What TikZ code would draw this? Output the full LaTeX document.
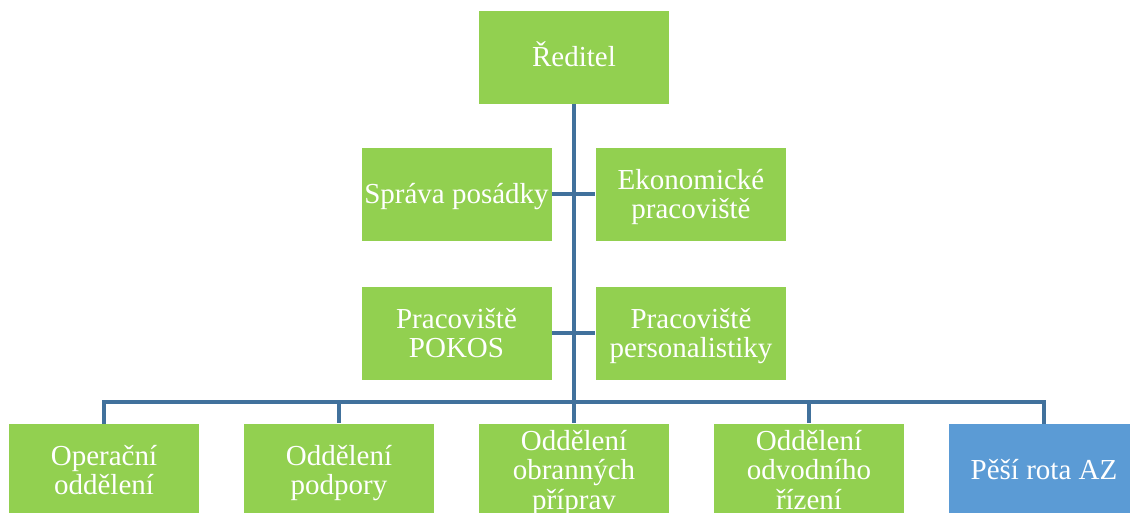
\documentclass[tikz,border=0pt]{standalone}
\usepackage{fontspec}
\setmainfont{Liberation Serif}
\definecolor{boxgreen}{HTML}{92D050}
\definecolor{boxblue}{HTML}{5B9BD5}
\definecolor{linkblue}{HTML}{41719C}
\newcommand{\lnst}{\rule[-0.216em]{0pt}{1.107em}}
\newcommand{\boxfont}{\fontsize{29}{29.5}\selectfont\lineskiplimit=-100pt\relax\lineskip=0pt\relax}
\begin{document}
\begin{tikzpicture}[x=1pt,y=-1pt,
  box/.style={draw=white, line width=0.8pt, fill=boxgreen, minimum width=191pt,
    minimum height=94pt, inner sep=0pt, text=white, align=center,
    font=\boxfont},
  link/.style={draw=linkblue, line width=3.5pt}]
\clip (0,0) rectangle (1130,513);
\fill[white] (0,0) rectangle (1130,513);
% nodes
\node[box] (dir) at (574,57) {\lnst Ředitel};
\node[box] (sprava) at (456.5,194) {\lnst Správa posádky};
\node[box] (ekon) at (691,194) {\lnst Ekonomické\\\lnst pracoviště};
\node[box] (pokos) at (456.5,333) {\lnst Pracoviště\\\lnst POKOS};
\node[box] (perso) at (691,333) {\lnst Pracoviště\\\lnst personalistiky};
\node[box] (b1) at (104,470) {\lnst Operační\\\lnst oddělení};
\node[box] (b2) at (339,470) {\lnst Oddělení\\\lnst podpory};
\node[box] (b3) at (574,470) {\lnst Oddělení\\\lnst obranných\\\lnst příprav};
\node[box] (b4) at (809,470) {\lnst Oddělení\\\lnst odvodního\\\lnst řízení};
\node[box, fill=boxblue] (b5) at (1044,470) {\lnst Pěší rota AZ};
% connectors
\coordinate (bus) at (574,402);
\draw[link] (dir.south) -- (bus);
\draw[link] (sprava.east) -- (ekon.west);
\draw[link] (pokos.east) -- (perso.west);
\draw[link, line cap=rect] (b1.north) |- (bus) -| (b5.north);
\draw[link] (b2.north) -- (b2.north |- bus);
\draw[link] (b3.north) -- (bus);
\draw[link] (b4.north) -- (b4.north |- bus);
\end{tikzpicture}
\end{document}
